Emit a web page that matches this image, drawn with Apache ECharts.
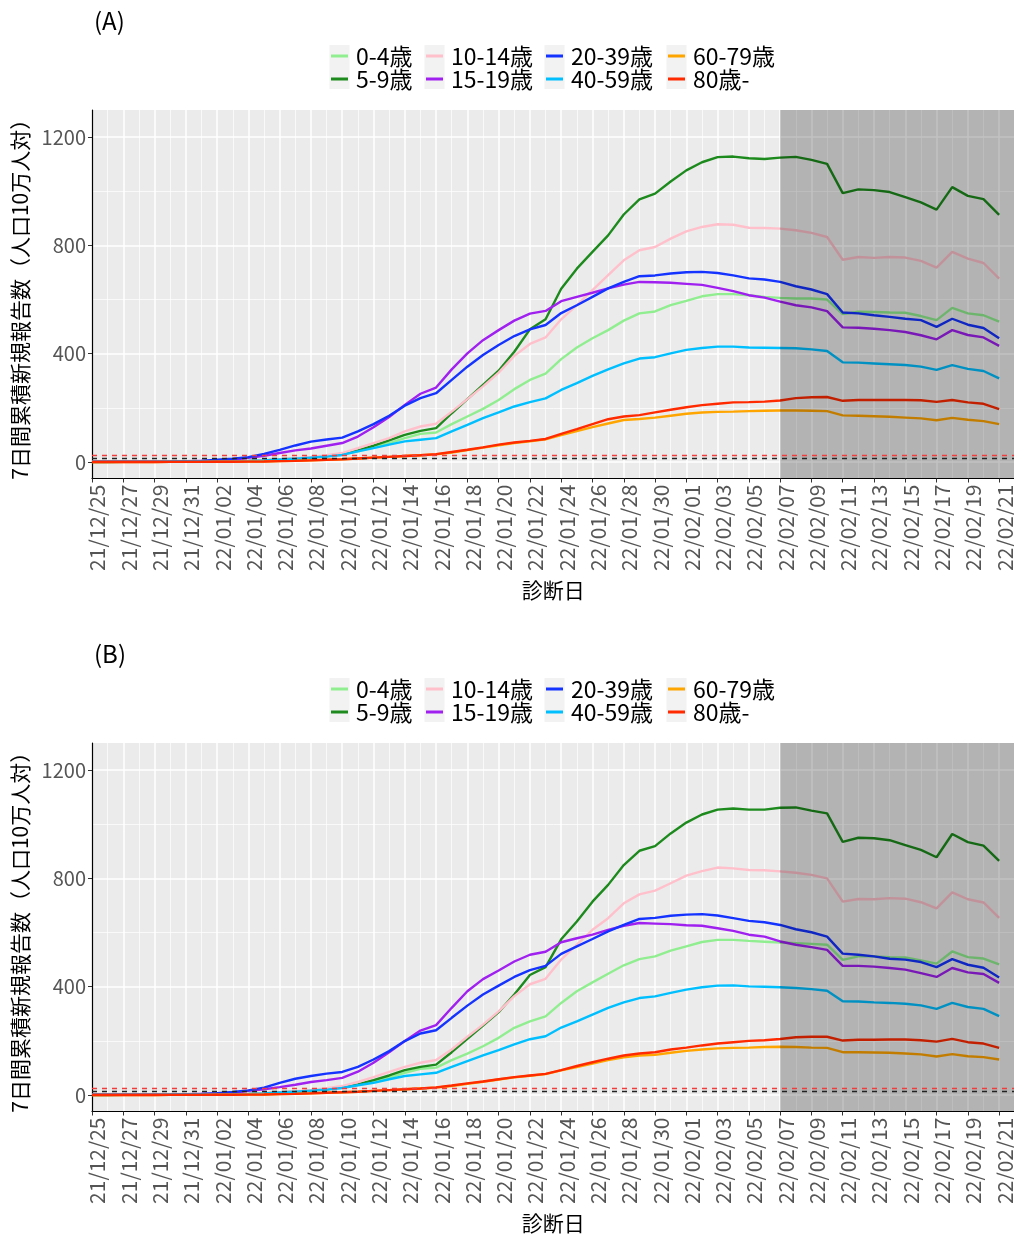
<!DOCTYPE html>
<html>
<head>
<meta charset="utf-8">
<script src="https://cdn.jsdelivr.net/npm/echarts@6/dist/echarts.min.js"></script>
<style>html,body{margin:0;padding:0;background:#fff;}#chart{width:1014px;height:1236px;}</style>
</head>
<body>
<div id="chart"></div>
<script>
const DATES = [
 '21/12/25','21/12/26','21/12/27','21/12/28','21/12/29','21/12/30','21/12/31',
 '22/01/01','22/01/02','22/01/03','22/01/04','22/01/05','22/01/06','22/01/07','22/01/08','22/01/09','22/01/10',
 '22/01/11','22/01/12','22/01/13','22/01/14','22/01/15','22/01/16','22/01/17','22/01/18','22/01/19','22/01/20',
 '22/01/21','22/01/22','22/01/23','22/01/24','22/01/25','22/01/26','22/01/27','22/01/28','22/01/29','22/01/30','22/01/31',
 '22/02/01','22/02/02','22/02/03','22/02/04','22/02/05','22/02/06','22/02/07','22/02/08','22/02/09','22/02/10',
 '22/02/11','22/02/12','22/02/13','22/02/14','22/02/15','22/02/16','22/02/17','22/02/18','22/02/19','22/02/20','22/02/21'
];
const GROUPS = ['0-4歳','5-9歳','10-14歳','15-19歳','20-39歳','40-59歳','60-79歳','80歳-'];
const COLORS = ['#90ee90','#1c8a1c','#ffc0cb','#a020f0','#1433ff','#00bfff','#ffa500','#ff2a00'];
const PANEL_TITLES = ['(A)','(B)'];
const Y_TITLE = '7日間累積新規報告数（人口10万人対）';
const X_TITLE = '診断日';
const Y_TICKS = [0,400,800,1200];
const Y_MINOR = [200,600,1000];
const THRESHOLDS = [15,25];
const SHADE_FROM = '22/02/07';

// Panel A
const A_0_4 = [0.3,0.3,0.4,0.4,0.5,0.6,0.8,1.0, 1.5,2.5,4,6,9,12,16,21, 28,39,55,70,88,104,109,140, 168,196,229,269,303,326,380,423, 457,487,522,549,556,579,595,612, 620,620,616,610,606,604,604,600, 546,555,554,552,551,539,524,569, 549,542,518];
const A_5_9 = [0.2,0.2,0.3,0.3,0.4,0.5,0.7,1.0, 1.5,2.5,4,6,9,12,16,22, 31,43,60,80,100,115,125,180, 232,285,337,407,490,527,640,714, 776,837,914,970,991,1036,1077,1107, 1126,1128,1122,1119,1124,1127,1116,1101, 993,1007,1004,997,978,959,932,1015, 983,971,913];
const A_10_14 = [0.3,0.3,0.4,0.4,0.5,0.7,1.0,1.4, 2,3,5,7,10,14,19,25, 33,51,70,88,113,131,141,186, 232,279,330,392,436,460,527,579, 635,690,745,782,794,825,852,868, 878,876,865,864,862,856,846,831, 747,757,754,757,755,743,718,776, 751,735,677];
const A_15_19 = [1,1,1,1,1.5,2,3,4, 5,8,15,23,33,43,50,60, 70,94,128,166,211,252,275,342, 401,450,487,522,548,558,594,610, 625,641,655,665,664,662,658,654, 643,631,616,607,592,579,571,557, 497,496,492,487,480,468,453,487, 469,460,429];
const A_20_39 = [1,1,1,1,1.5,2,3,4, 8,12,18,30,45,61,75,83, 90,113,140,171,208,236,254,303, 352,395,432,465,490,506,550,579, 610,641,665,686,689,696,701,702, 698,689,678,674,665,649,637,620, 552,549,542,536,529,524,499,529, 507,495,457];
const A_40_59 = [0.3,0.3,0.4,0.4,0.5,0.6,0.8,1.0, 1.5,2.5,4,6,9,12,16,20, 26,39,51,64,76,82,88,113, 137,162,183,205,221,235,266,291, 318,342,364,382,387,401,414,421, 426,426,423,422,421,420,416,410, 368,367,364,361,358,352,340,358, 344,336,309];
const A_60_79 = [0.1,0.1,0.1,0.2,0.2,0.3,0.4,0.5, 0.7,1,1.5,2,3,4,6,8, 10,13,16,19,22,25,28,35, 44,53,62,70,76,84,99,114, 129,142,155,159,164,171,178,183, 185,186,188,189,190,190,189,188, 172,171,169,167,164,161,154,163, 156,151,140];
const A_80 = [0.1,0.1,0.1,0.2,0.2,0.3,0.4,0.5, 0.7,1,1.5,2,3,4,6,8, 10,13,16,19,22,25,29,37, 45,54,64,72,78,85,104,121, 140,158,168,173,183,193,202,210, 215,220,221,223,227,236,239,240, 226,229,229,229,229,228,222,229, 220,215,195];

// Panel B
const B_0_4 = [0.3,0.3,0.4,0.4,0.5,0.6,0.8,1.0, 1.5,2.5,4,6,9,12,16,20, 27,37,49,64,82,97,101,129, 153,180,211,248,272,290,340,383, 416,448,479,502,512,533,549,565, 573,573,569,566,563,561,558,555, 499,512,512,509,508,497,485,530, 509,504,482];
const B_5_9 = [0.2,0.2,0.3,0.3,0.4,0.5,0.7,1.0, 1.5,2.5,4,6,9,12,16,21, 29,39,55,72,92,104,112,158, 207,256,306,371,443,472,575,641, 714,776,849,902,919,966,1006,1036, 1054,1058,1054,1054,1061,1062,1050,1040, 935,950,948,941,923,905,878,964, 934,921,865];
const B_10_14 = [0.3,0.3,0.4,0.4,0.5,0.7,1.0,1.4, 2,3,5,7,10,14,19,25, 33,48,66,85,104,119,129,168, 215,260,309,365,409,429,500,555, 610,653,708,741,755,782,810,827, 840,837,831,830,826,821,813,800, 714,724,723,727,725,712,689,748, 723,711,654];
const B_15_19 = [1,1,1,1,1.5,2,3,4, 5,8,15,21,29,38,48,55, 63,86,119,158,199,238,258,322, 383,428,460,493,518,529,564,579, 592,610,625,635,633,631,627,625, 616,606,592,585,567,555,546,536, 477,477,474,469,463,450,436,469, 453,447,414];
const B_20_39 = [1,1,1,1,1.5,2,3,4, 7,11,17,27,45,60,70,79, 85,104,131,162,199,227,239,285, 330,371,404,436,461,477,521,549, 576,604,628,650,654,662,666,668, 663,653,643,638,628,612,601,585, 522,518,512,503,500,491,472,502, 481,470,434];
const B_40_59 = [0.3,0.3,0.4,0.4,0.5,0.6,0.8,1.0, 1.5,2.5,4,6,9,12,16,20, 26,36,45,58,70,76,82,104, 125,146,166,187,206,217,249,272, 297,322,342,358,364,377,389,398, 404,405,401,400,398,395,391,385, 346,345,342,340,337,331,318,340, 325,318,291];
const B_60_79 = [0.1,0.1,0.1,0.2,0.2,0.3,0.4,0.5, 0.7,1,1.5,2,3,4,6,8, 10,12,15,18,21,24,27,33, 41,49,57,65,71,77,91,103, 116,129,139,146,148,156,163,168, 172,174,175,177,178,177,175,174, 158,158,157,156,153,150,142,151, 143,140,131];
const B_80 = [0.1,0.1,0.1,0.2,0.2,0.3,0.4,0.5, 0.7,1,1.5,2,3,4,6,8, 10,12,15,18,21,24,28,35, 43,50,58,66,72,78,92,107, 121,134,146,153,158,168,175,183, 190,195,200,202,207,213,215,215, 201,204,204,205,205,202,197,207, 195,190,174];

const PANELS = [
  [A_0_4, A_5_9, A_10_14, A_15_19, A_20_39, A_40_59, A_60_79, A_80],
  [B_0_4, B_5_9, B_10_14, B_15_19, B_20_39, B_40_59, B_60_79, B_80]
];

const FONT = "'Noto Sans CJK JP', 'Noto Sans', sans-serif";
const PANEL_OFFSET = 633;
const GRID_TOP = 110, GRID_H = 368.5, GRID_LEFT = 92, DAY_PX = 15.64;
const X_MAX = DATES.length + 1; // plot extends past last date
const legendLefts = [331, 426, 546, 668];

const grids = [], xAxes = [], yAxes = [], series = [], legends = [], titles = [], graphics = [];

PANELS.forEach((panel, p) => {
  const off = p * PANEL_OFFSET;
  grids.push({left: GRID_LEFT, top: GRID_TOP + off, width: DAY_PX * X_MAX, height: GRID_H,
    show: true, backgroundColor: '#ebebeb', borderWidth: 0, containLabel: false, outerBoundsMode: 'none'});
  xAxes.push({
    type: 'value', gridIndex: p, min: 0, max: X_MAX, interval: 2,
    axisLine: {show: true, onZero: false, lineStyle: {color: '#000', width: 1.2}},
    axisTick: {show: true, length: 4, lineStyle: {color: '#333', width: 1}},
    minorTick: {show: false, splitNumber: 2},
    axisLabel: {rotate: 90, margin: 6, fontSize: 21, color: '#555555', fontFamily: FONT,
      verticalAlign: 'top', lineHeight: 11,
      formatter: v => DATES[v] || ''},
    splitLine: {show: true, lineStyle: {color: '#ffffff', width: 1.5}},
    minorSplitLine: {show: true, lineStyle: {color: '#ffffff', width: 0.7}},
    name: X_TITLE, nameLocation: 'middle', nameGap: 101,
    nameTextStyle: {fontSize: 21, color: '#000', fontFamily: FONT, padding: [0, 16, 0, 0]}
  });
  yAxes.push({
    type: 'value', gridIndex: p, min: -61, max: 1300,
    axisLine: {show: true, onZero: false, lineStyle: {color: '#000', width: 1.2}},
    axisTick: {show: true, length: 4, customValues: Y_TICKS, lineStyle: {color: '#333'}},
    axisLabel: {customValues: Y_TICKS, margin: 6, fontSize: 20, color: '#555555', fontFamily: FONT,
      formatter: v => String(v)},
    splitLine: {show: true, lineStyle: {color: '#ffffff', width: 1.5}},
    name: Y_TITLE, nameLocation: 'middle', nameGap: 59, nameRotate: 90,
    nameTextStyle: {fontSize: 21, color: '#000', fontFamily: FONT}
  });
  yAxes.push({
    type: 'value', gridIndex: p, min: -61, max: 1300,
    axisLine: {show: false}, axisLabel: {show: false, customValues: Y_MINOR},
    axisTick: {show: false, customValues: Y_MINOR},
    splitLine: {show: true, lineStyle: {color: '#ffffff', width: 0.7}}
  });
  panel.forEach((vals, g) => {
    series.push({
      type: 'line', name: GROUPS[g], xAxisIndex: p, yAxisIndex: 2 * p,
      data: vals.map((v, i) => [i, v]), symbol: 'none', showSymbol: false,
      lineStyle: {width: 2.4, color: COLORS[g]}, itemStyle: {color: COLORS[g]}, z: 2
    });
  });
  series.push({
    type: 'line', name: 'overlay' + p, xAxisIndex: p, yAxisIndex: 2 * p, data: [],
    markArea: {silent: true, z: 10, itemStyle: {color: 'rgba(0,0,0,0.24)'},
      data: [[{xAxis: DATES.indexOf(SHADE_FROM)}, {xAxis: X_MAX}]]},
    markLine: {silent: true, z: 11, symbol: ['none', 'none'], label: {show: false},
      data: [
        {yAxis: THRESHOLDS[0], lineStyle: {color: '#222', type: [5, 5], width: 1.4}},
        {yAxis: THRESHOLDS[1], lineStyle: {color: '#f03c3c', type: [5, 5], width: 1.4}}
      ]}
  });
  titles.push({text: PANEL_TITLES[p], left: GRID_LEFT - 3, top: 4 + off,
    textStyle: {fontSize: 24, fontWeight: 'normal', color: '#000', fontFamily: FONT}});
  legendLefts.forEach((lx, c) => {
    legends.push({
      orient: 'vertical', left: lx, top: 44.5 + off, itemWidth: 17, itemHeight: 3, itemGap: 0,
      icon: 'rect', selectedMode: false, padding: 0,
      data: [GROUPS[2 * c], GROUPS[2 * c + 1]],
      textStyle: {fontSize: 23, color: '#000', lineHeight: 23, padding: [0, 0, 0, 3], fontFamily: FONT}
    });
    graphics.push({type: 'rect', left: lx - 1.5, top: 45 + off, z: 0,
      shape: {width: 20, height: 44}, style: {fill: '#f2f2f2'}});
  });
});

const chart = echarts.init(document.getElementById('chart'), null, {renderer: 'canvas'});
chart.setOption({
  animation: false,
  backgroundColor: '#ffffff',
  textStyle: {fontFamily: FONT},
  title: titles,
  legend: legends,
  grid: grids,
  xAxis: xAxes,
  yAxis: yAxes,
  graphic: graphics,
  series: series
});
</script>
</body>
</html>
